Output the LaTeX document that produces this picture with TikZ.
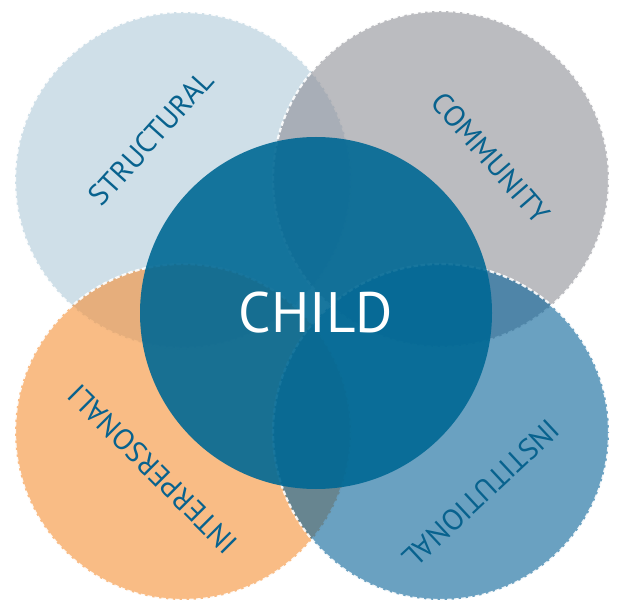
\documentclass[tikz,border=0pt]{standalone}
\usepackage{fontspec}
\setmainfont{PT Sans}
\usetikzlibrary{positioning}
\definecolor{structblue}{RGB}{175,202,217}
\definecolor{commgray}{RGB}{142,143,150}
\definecolor{interorange}{RGB}{245,143,52}
\definecolor{instblue}{RGB}{7,98,152}
\definecolor{childblue}{RGB}{0,104,148}
\definecolor{labelblue}{RGB}{8,98,142}
\tikzset{
  ring/.style={circle,minimum size=336pt,inner sep=0pt,fill opacity=0.6,
    draw=white,draw opacity=0.9,line width=2.2pt,dash pattern=on 4.5pt off 2.5pt},
  ringlabel/.style={text=labelblue,font=\fontsize{29.5}{30}\selectfont,inner sep=0pt},
}
\begin{document}
\begin{tikzpicture}[x=1pt,y=1pt]
\useasboundingbox (0,0) rectangle (618,603);
% Draw the four outer circles
\node[ring,fill=structblue] (structural) at (183,423) {};
\node[ring,fill=commgray] (community) at (441,424) {};
\node[ring,fill=interorange] (interpersonal) at (183,171) {};
\node[ring,fill=instblue] (institutional) at (441,171) {};

% Draw the child circle
\node[circle,minimum size=352pt,inner sep=0pt,fill=childblue,fill opacity=0.9] (child) at (316,290) {};
\node[text=white,font=\fontsize{57}{57}\selectfont] (childtext) at (child) {CHILD};

% Labels
\node[ringlabel,rotate=48] (structtext) at (151,465) {STRUCTURAL};
\node[ringlabel,rotate=-49] (commtext) at (491,445) {COMMUNITY};
\node[ringlabel,rotate=135] (intertext) at (153,134) {INTERPERSONALI};
\node[ringlabel,rotate=-137] (insttext) at (481,109) {INSTITUTIONAL};
\end{tikzpicture}
\end{document}
